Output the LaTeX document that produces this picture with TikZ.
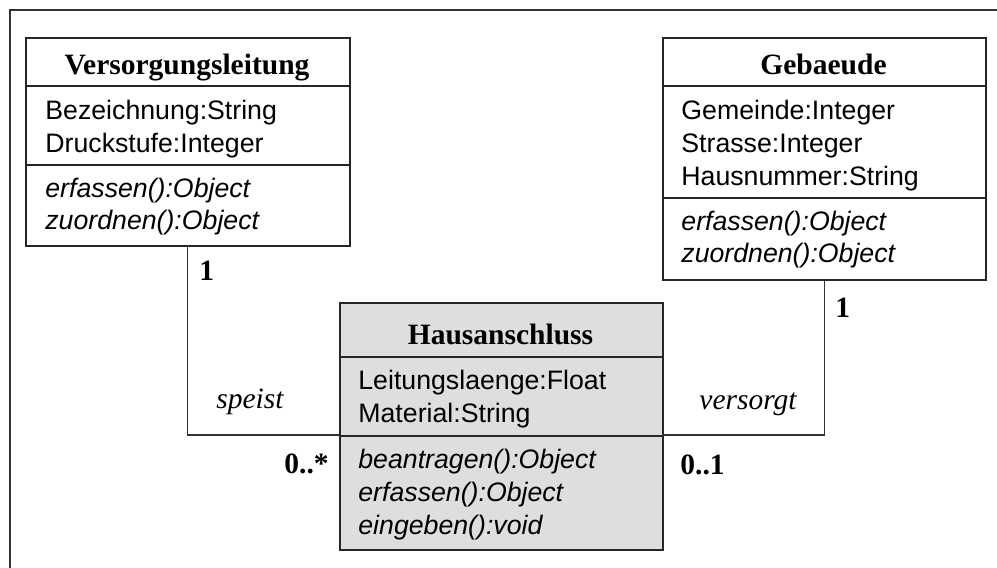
\documentclass[tikz,border=0pt]{standalone}
\usepackage{fontspec}
\setmainfont{Liberation Serif}
\newfontfamily\umlsans{Liberation Sans}
\begin{document}
\begin{tikzpicture}[x=0.5pt,y=-0.5pt,
  frameline/.style={draw=black!80, line width=1pt},
  classbox/.style={draw=black!85, line width=0.75pt, inner sep=0pt, anchor=north west},
  sepline/.style={draw=black!85, line width=0.75pt},
  assoc/.style={draw=black!80, line width=0.7pt},
  classtitle/.style={font=\fontsize{14.75}{17}\selectfont\bfseries, anchor=base, inner sep=0pt},
  member/.style={font=\umlsans\fontsize{13.35}{16}\selectfont, anchor=base west, inner sep=0pt},
  operation/.style={font=\umlsans\itshape\fontsize{13.35}{16}\selectfont, anchor=base west, inner sep=0pt},
  mult/.style={font=\fontsize{14.75}{17}\selectfont\bfseries, anchor=base west, inner sep=0pt},
  role/.style={font=\fontsize{14.75}{17}\selectfont\itshape, anchor=base west, inner sep=0pt}]

\useasboundingbox (0,0) rectangle (997,568);

% outer frame (left and top edges)
\coordinate (fbl) at (10,568);
\coordinate (ftl) at (10,10);
\coordinate (ftr) at (997,10);
\draw[frameline] (fbl) -- (ftl) -- (ftr);

% class boxes
\node[classbox, minimum width=162pt, minimum height=104pt] (vl) at (25,37) {};
\node[classbox, minimum width=161.5pt, minimum height=121pt] (gb) at (662,37) {};
\node[classbox, fill=black!13, minimum width=161.5pt, minimum height=123.5pt] (ha) at (339,302) {};

% compartment separators
\draw[sepline] (vl.west |- 0,86) -- (vl.east |- 0,86);
\draw[sepline] (vl.west |- 0,165) -- (vl.east |- 0,165);
\draw[sepline] (gb.west |- 0,86) -- (gb.east |- 0,86);
\draw[sepline] (gb.west |- 0,198) -- (gb.east |- 0,198);
\draw[sepline] (ha.west |- 0,357) -- (ha.east |- 0,357);
\draw[sepline] (ha.west |- 0,436) -- (ha.east |- 0,436);

% Versorgungsleitung
\node[classtitle] (vlt) at (187,74) {Versorgungsleitung};
\node[member] (vla1) at (45,119) {Bezeichnung:String};
\node[member] (vla2) at (45,152) {Druckstufe:Integer};
\node[operation] (vlo1) at (45,197) {erfassen():Object};
\node[operation] (vlo2) at (45,229) {zuordnen():Object};

% Gebaeude
\node[classtitle] (gbt) at (823.5,74) {Gebaeude};
\node[member] (gba1) at (681,119) {Gemeinde:Integer};
\node[member] (gba2) at (681,152) {Strasse:Integer};
\node[member] (gba3) at (681,185) {Hausnummer:String};
\node[operation] (gbo1) at (681,230) {erfassen():Object};
\node[operation] (gbo2) at (681,262) {zuordnen():Object};

% Hausanschluss
\node[classtitle] (hat) at (500.5,344) {Hausanschluss};
\node[member] (haa1) at (358,389) {Leitungslaenge:Float};
\node[member] (haa2) at (358,422) {Material:String};
\node[operation] (hao1) at (358,468) {beantragen():Object};
\node[operation] (hao2) at (358,501) {erfassen():Object};
\node[operation] (hao3) at (358,534) {eingeben():void};

% associations
\coordinate (haL) at (339,435);
\coordinate (haR) at (662,435);
\draw[assoc] (vl.south) |- (haL);
\draw[assoc] (haR) -| (gb.south);

% association labels
\node[mult] (m1) at (199,280) {1};
\node[role] (r1) at (216,408) {speist};
\node[mult] (m2) at (284,473) {0..*};
\node[mult] (m3) at (835,317) {1};
\node[role] (r2) at (699,409) {versorgt};
\node[mult] (m4) at (680,474) {0..1};
\end{tikzpicture}
\end{document}
